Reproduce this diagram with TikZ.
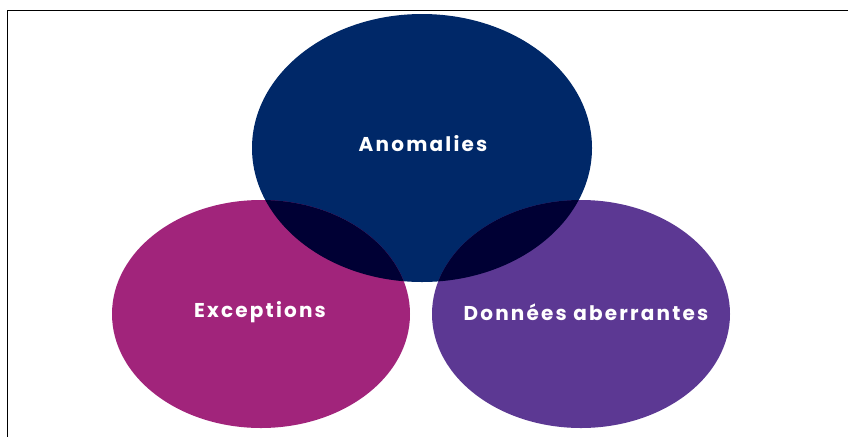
\documentclass[tikz,border=0pt]{standalone}
\usepackage{fontspec}
\setsansfont{Poppins}[BoldFont={* Bold}, LetterSpace=11]
\definecolor{navyblue}{RGB}{0,40,104}
\definecolor{plum}{RGB}{161,36,123}
\definecolor{violet}{RGB}{92,56,147}
\definecolor{deepnavy}{RGB}{0,0,52}
\begin{document}
\begin{tikzpicture}[x=1pt, y=-1pt, label/.style={text=white, font=\sffamily\bfseries\fontsize{20}{24}\selectfont}]

	\useasboundingbox (0,0) rectangle (853,437);
	% frame: only top and left edges show
	\draw[line width=0.8pt] (848,10) -- (7,10) -- (7,437);

	% the three sets
	\fill[navyblue] (422,148) ellipse [x radius=170, y radius=134];
	\fill[plum] (261,314) ellipse [x radius=149, y radius=114];
	\fill[violet] (581,314) ellipse [x radius=149, y radius=114];

	% overlaps with the top set
	\begin{scope}
		\clip (422,148) ellipse [x radius=170, y radius=134];
		\fill[deepnavy] (261,314) ellipse [x radius=149, y radius=114];
		\fill[deepnavy] (581,314) ellipse [x radius=149, y radius=114];
	\end{scope}

	\node[label] (anomalies) at (423,144) {Anomalies};
	\node[label] (exceptions) at (260,312) {Exceptions};
	\node[label] (aberrantes) at (586,312) {Données aberrantes};

\end{tikzpicture}
\end{document}
